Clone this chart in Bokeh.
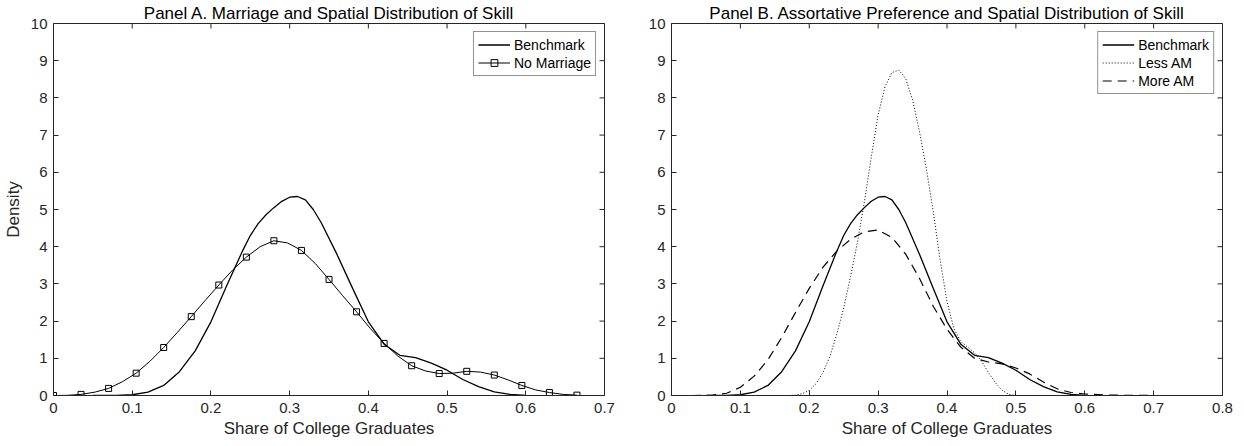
import math
from bokeh.plotting import figure
from bokeh.layouts import row
from bokeh.models import Legend, LegendItem, FixedTicker, Range1d
from bokeh.embed import file_html
from bokeh.resources import INLINE

FONT = "Liberation Sans"
AX = "#262626"

# ---------------- data ----------------
titles = ["Panel A. Marriage and Spatial Distribution of Skill",
          "Panel B. Assortative Preference and Spatial Distribution of Skill"]
x_label = "Share of College Graduates"
y_label = "Density"

xticks_a = [0, 0.1, 0.2, 0.3, 0.4, 0.5, 0.6, 0.7]
xlabels_a = ["0", "0.1", "0.2", "0.3", "0.4", "0.5", "0.6", "0.7"]
xticks_b = [0, 0.1, 0.2, 0.3, 0.4, 0.5, 0.6, 0.7, 0.8]
xlabels_b = ["0", "0.1", "0.2", "0.3", "0.4", "0.5", "0.6", "0.7", "0.8"]
yticks = [0, 1, 2, 3, 4, 5, 6, 7, 8, 9, 10]

bench_x = [0.05, 0.08, 0.10, 0.12, 0.14, 0.16, 0.18, 0.20, 0.22, 0.24, 0.25, 0.26,
           0.27, 0.28, 0.29, 0.30, 0.31, 0.32, 0.33, 0.34, 0.36, 0.38, 0.40, 0.42,
           0.44, 0.46, 0.48, 0.50, 0.52, 0.54, 0.56, 0.58, 0.60]
bench_y = [0.00, 0.00, 0.02, 0.09, 0.27, 0.64, 1.20, 1.98, 2.95, 3.88, 4.30, 4.62,
           4.86, 5.05, 5.22, 5.33, 5.35, 5.26, 5.00, 4.65, 3.80, 2.88, 1.98, 1.38,
           1.08, 1.02, 0.87, 0.68, 0.43, 0.24, 0.10, 0.03, 0.00]

# No Marriage: curve sampled every 0.0175, markers on every other sample
nomar_x = [0.0, 0.0175, 0.035, 0.0525, 0.07, 0.0875, 0.105, 0.1225, 0.14, 0.1575,
           0.175, 0.1925, 0.21, 0.2275, 0.245, 0.2625, 0.28, 0.2975, 0.315, 0.3325,
           0.35, 0.3675, 0.385, 0.4025, 0.42, 0.4375, 0.455, 0.4725, 0.49, 0.5075,
           0.525, 0.5425, 0.56, 0.5775, 0.595, 0.6125, 0.63, 0.6475, 0.665]
nomar_y = [0.00, 0.005, 0.03, 0.09, 0.19, 0.37, 0.60, 0.92, 1.29, 1.70,
           2.12, 2.55, 2.97, 3.37, 3.72, 4.00, 4.16, 4.10, 3.90, 3.55,
           3.12, 2.68, 2.25, 1.80, 1.40, 1.06, 0.80, 0.66, 0.59, 0.60,
           0.65, 0.63, 0.55, 0.42, 0.27, 0.15, 0.08, 0.03, 0.01]

less_x = [0.17, 0.18, 0.19, 0.20, 0.21, 0.22, 0.23, 0.24, 0.25, 0.26, 0.27, 0.28,
          0.29, 0.30, 0.31, 0.32, 0.33, 0.34, 0.35, 0.36, 0.37, 0.38, 0.39, 0.40,
          0.41, 0.42, 0.43, 0.44, 0.45, 0.46, 0.47, 0.48, 0.49, 0.50]
less_y = [0.00, 0.01, 0.05, 0.14, 0.32, 0.62, 1.05, 1.65, 2.35, 3.20, 4.12, 5.20,
          6.40, 7.55, 8.30, 8.68, 8.75, 8.52, 7.95, 7.10, 6.10, 4.95, 3.65, 2.52,
          1.80, 1.45, 1.30, 1.15, 0.93, 0.62, 0.35, 0.14, 0.03, 0.00]

more_x = [0.03, 0.06, 0.08, 0.10, 0.12, 0.14, 0.16, 0.18, 0.20, 0.22, 0.24, 0.26,
          0.28, 0.30, 0.32, 0.34, 0.36, 0.38, 0.40, 0.42, 0.44, 0.46, 0.48, 0.50,
          0.52, 0.54, 0.56, 0.58, 0.60, 0.64, 0.70]
more_y = [0.00, 0.01, 0.06, 0.22, 0.52, 0.96, 1.56, 2.23, 2.88, 3.45, 3.88, 4.20,
          4.40, 4.45, 4.25, 3.80, 3.15, 2.40, 1.78, 1.30, 1.00, 0.90, 0.85, 0.74,
          0.58, 0.36, 0.18, 0.08, 0.04, 0.01, 0.00]

YMAX = 10


def make_fig(title, xmax, xticks, xlabels, border_left, border_right, ylab):
    p = figure(frame_width=551, frame_height=372,
               x_range=Range1d(0, xmax), y_range=Range1d(0, YMAX),
               output_backend="svg", toolbar_location=None,
               min_border_left=border_left, min_border_right=border_right,
               min_border_top=15, min_border_bottom=43,
               background_fill_color="white", border_fill_color="white")
    p.title.text = title
    p.title.text_font = FONT
    p.title.text_font_size = "17px"
    p.title.text_font_style = "normal"
    p.title.text_color = "black"
    p.title.align = "center"
    p.title.standoff = 2
    p.xgrid.visible = False
    p.ygrid.visible = False
    p.outline_line_color = AX
    p.outline_line_width = 1
    p.outline_line_alpha = 1

    overrides = {t: l for t, l in zip(xticks, xlabels)}
    for ax, ticks in ((p.xaxis[0], xticks), (p.yaxis[0], yticks)):
        ax.ticker = FixedTicker(ticks=ticks)
        ax.major_tick_in = 5
        ax.major_tick_out = 0
        ax.minor_tick_line_color = None
        ax.axis_line_color = AX
        ax.major_tick_line_color = AX
        ax.major_label_text_font = FONT
        ax.major_label_text_font_size = "15px"
        ax.major_label_text_color = AX
        ax.axis_label_text_font = FONT
        ax.axis_label_text_font_size = "17px"
        ax.axis_label_text_font_style = "normal"
        ax.axis_label_text_color = AX
    p.xaxis[0].major_label_overrides = overrides
    p.xaxis[0].major_label_standoff = 7
    p.xaxis[0].axis_label = x_label
    p.xaxis[0].axis_label_standoff = 3
    p.yaxis[0].major_label_standoff = 6
    if ylab:
        p.yaxis[0].axis_label = ylab
        p.yaxis[0].axis_label_standoff = 5

    # inward ticks on the top and right edges of the box (clipped to the frame)
    p.scatter(x=xticks, y=[YMAX] * len(xticks), marker="dash", angle=math.pi / 2,
              size=10, line_color=AX, line_width=1)
    p.scatter(x=[xmax] * len(yticks), y=yticks, marker="dash",
              size=10, line_color=AX, line_width=1)
    return p


def style_legend(items):
    lg = Legend(items=items, location="top_right", margin=8, padding=4, spacing=1,
                glyph_width=32, glyph_height=17, label_height=17, label_standoff=4,
                label_text_font=FONT, label_text_font_size="14px", label_text_color="black",
                border_line_color=AX, border_line_width=1, background_fill_color="white",
                background_fill_alpha=1)
    return lg


# ---------------- Panel A ----------------
pA = make_fig(titles[0], 0.7, xticks_a, xlabels_a, 46, 25, y_label)
rb = pA.line(bench_x, bench_y, line_color="black", line_width=1.3)
rn = pA.line(nomar_x, nomar_y, line_color="black", line_width=1)
rm = pA.scatter(nomar_x[::2], nomar_y[::2], marker="square", size=6,
                fill_color=None, line_color="black", line_width=1)
pA.add_layout(style_legend([LegendItem(label="Benchmark", renderers=[rb]),
                            LegendItem(label="No Marriage", renderers=[rn, rm])]))

# ---------------- Panel B ----------------
pB = make_fig(titles[1], 0.8, xticks_b, xlabels_b, 42, 13, None)
r1 = pB.line(bench_x, bench_y, line_color="black", line_width=1.3)
r2 = pB.line(less_x, less_y, line_color="black", line_width=1, line_dash="1 2")
r3 = pB.line(more_x, more_y, line_color="black", line_width=1.2, line_dash="9 6")
pB.add_layout(style_legend([LegendItem(label="Benchmark", renderers=[r1]),
                            LegendItem(label="Less AM", renderers=[r2]),
                            LegendItem(label="More AM", renderers=[r3])]))

layout = row(pA, pB)
open("out.html", "w").write(file_html(layout, INLINE))
